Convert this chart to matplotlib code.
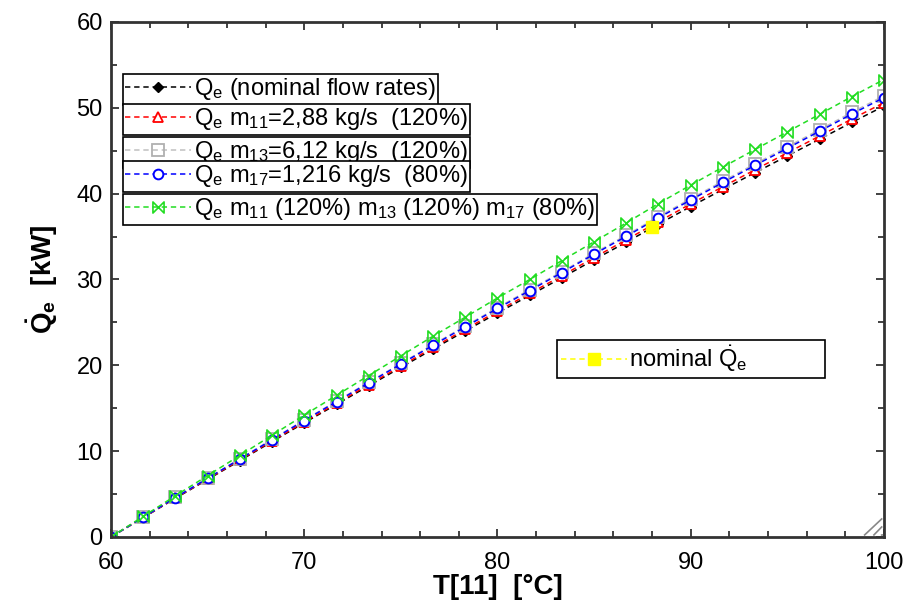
import matplotlib.pyplot as plt
import numpy as np
from matplotlib.path import Path

plt.rcParams['font.family'] = ['Liberation Sans', 'DejaVu Sans']
plt.rcParams['mathtext.fontset'] = 'custom'
plt.rcParams['mathtext.rm'] = 'Liberation Sans'
plt.rcParams['mathtext.it'] = 'Liberation Sans'
plt.rcParams['mathtext.bf'] = 'Liberation Sans:bold'

# T[11] sweep, 60..100 degC
t11 = [60.0, 61.67, 63.33, 65.0, 66.67, 68.33, 70.0, 71.67, 73.33, 75.0, 76.67, 78.33,
       80.0, 81.67, 83.33, 85.0, 86.67, 88.33, 90.0, 91.67, 93.33, 95.0, 96.67, 98.33, 100.0]

# evaporator heat flow [kW]
qe_nominal = [0, 2.25, 4.5, 6.7, 8.9, 11.1, 13.3, 15.45, 17.6, 19.75, 21.9, 24.0,
              26.1, 28.15, 30.2, 32.3, 34.35, 36.45, 38.5, 40.5, 42.45, 44.4, 46.35, 48.3, 50.2]
qe_m11 = [0, 2.27, 4.54, 6.75, 8.97, 11.19, 13.4, 15.57, 17.74, 19.91, 22.08, 24.19,
          26.31, 28.38, 30.44, 32.56, 34.63, 36.74, 38.81, 40.82, 42.79, 44.76, 46.72, 48.69, 50.6]
qe_m13 = [0, 2.30, 4.61, 6.86, 9.11, 11.37, 13.62, 15.82, 18.02, 20.22, 22.43, 24.58,
          26.73, 28.83, 30.92, 33.07, 35.17, 37.33, 39.42, 41.47, 43.47, 45.47, 47.46, 49.46, 51.4]
qe_m17 = [0, 2.30, 4.59, 6.83, 9.08, 11.32, 13.57, 15.76, 17.95, 20.15, 22.34, 24.48,
          26.62, 28.71, 30.80, 32.95, 35.04, 37.18, 39.27, 41.31, 43.30, 45.29, 47.28, 49.27, 51.2]
qe_all = [0, 2.4, 4.8, 7.15, 9.5, 11.85, 14.2, 16.5, 18.8, 21.1, 23.4, 25.6,
          27.85, 30.0, 32.2, 34.4, 36.6, 38.85, 41.0, 43.1, 45.15, 47.2, 49.25, 51.3, 53.3]

# design point
t_nom = [88.0]
qe_nom = [36.1]

labels = [r'Q$_\mathrm{e}$ (nominal flow rates)',
          r'Q$_\mathrm{e}$ m$_{11}$=2,88 kg/s  (120%)',
          r'Q$_\mathrm{e}$ m$_{13}$=6,12 kg/s  (120%)',
          r'Q$_\mathrm{e}$ m$_{17}$=1,216 kg/s  (80%)',
          r'Q$_\mathrm{e}$ m$_{11}$ (120%) m$_{13}$ (120%) m$_{17}$ (80%)']

# bow-tie marker
bowtie = Path([(-1, -1), (1, 1), (1, -1), (-1, 1), (-1, -1)],
              [Path.MOVETO, Path.LINETO, Path.LINETO, Path.LINETO, Path.CLOSEPOLY])

fig = plt.figure(figsize=(9.06, 6.06), dpi=100)
ax = fig.add_axes([0.1225, 0.1139, 0.8532, 0.8498])

dash = (0, (3.5, 2.5))
h = []
h += ax.plot(t11, qe_nominal, color='black', ls=dash, lw=1.1, marker='D', ms=5,
             mfc='black', mec='black', label=labels[0])
h += ax.plot(t11, qe_m11, color='red', ls=dash, lw=1.1, marker='^', ms=7,
             mfc='white', mec='red', mew=1.3, label=labels[1])
h += ax.plot(t11, qe_m13, color='#c0c0c0', ls=dash, lw=1.1, marker='s', ms=8,
             mfc='none', mec='#b0b0b0', mew=1.3, label=labels[2])
h += ax.plot(t11, qe_m17, color='blue', ls=dash, lw=1.1, marker='o', ms=7,
             mfc='white', mec='blue', mew=1.4, label=labels[3])
h += ax.plot(t11, qe_all, color='#22dd22', ls=dash, lw=1.1, marker=bowtie, ms=8,
             mfc='none', mec='#22dd22', mew=1.2, label=labels[4])
hn, = ax.plot(t_nom, qe_nom, color='yellow', ls=dash, lw=1.1, marker='s', ms=8,
              mfc='yellow', mec='yellow', label=r'nominal $\dot{\mathrm{Q}}_\mathrm{e}$')

ax.set_xlim(60, 100)
ax.set_ylim(0, 60)
ax.set_xticks([60, 70, 80, 90, 100])
ax.set_xticks(np.arange(60, 101, 2), minor=True)
ax.set_yticks([0, 10, 20, 30, 40, 50, 60])
ax.set_yticks(np.arange(0, 61, 5), minor=True)
ax.tick_params(which='both', direction='in', top=True, right=True, labelsize=17,
               color='#333333', width=1.3)
ax.tick_params(which='major', length=6)
ax.tick_params(which='minor', length=4)
ax.tick_params(axis='x', pad=11)
ax.tick_params(axis='y', pad=6)
for s in ax.spines.values():
    s.set_linewidth(2)
    s.set_color('#333333')

ax.set_xlabel('T[11]  [°C]', fontsize=20, fontweight='bold', labelpad=0)
ax.set_ylabel(r'$\mathbf{\dot{Q}_e}$  [kW]', fontsize=20, fontweight='bold', labelpad=12)

# one framed box per series, stacked at upper left
W, H = 906.0, 606.0
tops = [74, 104, 137, 161, 194]
for hh, top in zip(h, tops):
    lg = ax.legend(handles=[hh], loc='upper left', bbox_to_anchor=(123 / W, 1 - top / H),
                   bbox_transform=fig.transFigure, fontsize=17, frameon=True,
                   fancybox=False, framealpha=1, edgecolor='black', borderpad=0.1,
                   handlelength=2.8, handletextpad=0.1, borderaxespad=0)
    lg.get_frame().set_linewidth(1.2)
    ax.add_artist(lg)

lg = ax.legend(handles=[hn], loc='upper left', bbox_to_anchor=(557 / W, 1 - 340 / H),
               bbox_transform=fig.transFigure, fontsize=17, frameon=True,
               fancybox=False, framealpha=1, edgecolor='black', borderpad=0.15,
               handlelength=2.8, handletextpad=0.1, borderaxespad=0)
lg.get_texts()[0].set_text(r'nominal $\dot{\mathrm{Q}}_\mathrm{e}$' + ' ' * 12)
lg.get_frame().set_linewidth(1.2)

# little grip hatch in the lower right corner
for off in [0.0, 0.012, 0.024]:
    ax.plot([0.975 + off, 0.997], [0.004, 0.035 - off * 1.3], transform=ax.transAxes,
            color='#888888', lw=1.2, clip_on=False)

fig.savefig('out.png', dpi=100)
